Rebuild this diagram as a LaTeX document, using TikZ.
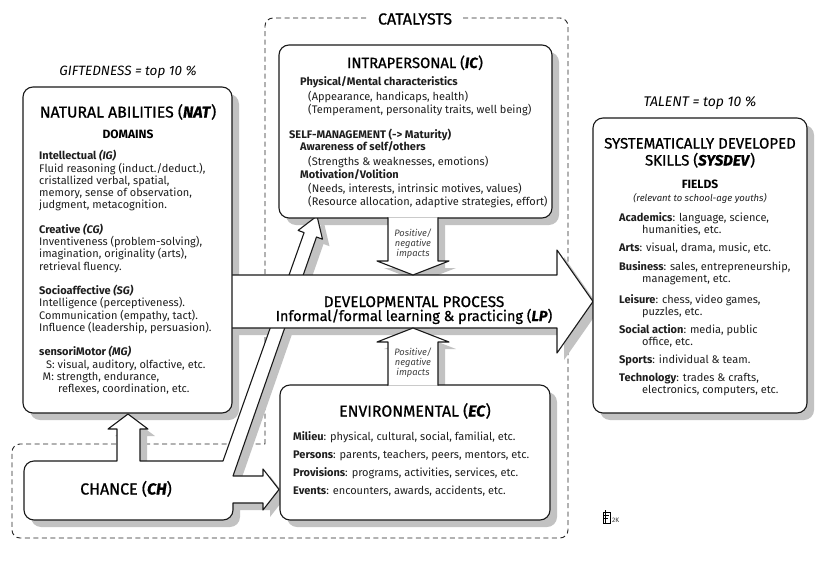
\documentclass[tikz,border=0pt]{standalone}
\usepackage{fontspec}
\setmainfont{Fira Sans}
\newfontfamily\medfont{Fira Sans}[FakeBold=0.9]
\definecolor{shd}{HTML}{C2C2C2}
\definecolor{txt}{HTML}{1E1E1E}
\tikzset{
  shadowfill/.style={fill=shd, draw=none, shift={(7,7)}},
  boxline/.style={draw=black!90, line width=1.1pt, fill=white, line join=round},
  rbox/.style={boxline, rounded corners=10pt},
  tl/.style={anchor=base west, inner sep=0pt, font=\fontsize{11}{12}\selectfont, text=txt},
  tc/.style={anchor=base, inner sep=0pt, text=black},
  ttl/.style={tc, font=\medfont\fontsize{15.8}{17}\selectfont},
  imp/.style={tc, font=\fontsize{9.3}{10}\selectfont\itshape, text=black!75},
  catline/.style={draw=black!85, line width=0.9pt, dash pattern=on 5pt off 3.5pt}
}
\begin{document}
\begin{tikzpicture}[x=1pt,y=-1pt]
\useasboundingbox (0,0) rectangle (825,573);
\fill[white] (0,0) rectangle (825,573);

% catalysts boundary
\draw[catline, rounded corners=8pt] (265,444) -- (265,18) -- (568,18) -- (568,538) -- (12,538) -- (12,444) -- (265,444);

% ---- shadows ----
\fill[shadowfill, rounded corners=10pt] (23,87) rectangle (232,413);
\fill[shadowfill, rounded corners=10pt] (279,45) rectangle (552,218);
\fill[shadowfill, rounded corners=10pt] (280,385) rectangle (550,520);
\fill[shadowfill, rounded corners=10pt] (593,118) rectangle (807,413);
\fill[shadowfill] (232,275) -- (557,275) -- (557,250) -- (593,301.5) -- (557,353) -- (557,328) -- (232,328) -- cycle;
\fill[shadowfill] (388,218) -- (388,261) -- (377,261) -- (413,275) -- (449,261) -- (438,261) -- (438,218) -- cycle;
\fill[shadowfill] (388,385) -- (388,342) -- (377,342) -- (413,328) -- (449,342) -- (438,342) -- (438,385) -- cycle;
\fill[shadowfill] (34,461) -- (117,461) -- (117,429) -- (108,429) -- (128,414) -- (148,429) -- (140,429) -- (140,461) -- (223,461)
  -- (304.1,232.6) -- (298.1,230.4) -- (317,216) -- (322.5,239.2) -- (316.5,237.0) -- (233,476)
  -- (263,476) -- (263,469) -- (279,489.5) -- (263,510) -- (263,503) -- (233,503) -- (233,510)
  .. controls (233,515.5) and (228.5,520) .. (223,520) -- (34,520)
  .. controls (28.5,520) and (24,515.5) .. (24,510) -- (24,471)
  .. controls (24,465.5) and (28.5,461) .. (34,461) -- cycle;

% ---- chance composite ----
\draw[boxline] (34,461) -- (117,461) -- (117,429) -- (108,429) -- (128,414) -- (148,429) -- (140,429) -- (140,461) -- (223,461)
  -- (304.1,232.6) -- (298.1,230.4) -- (317,216) -- (322.5,239.2) -- (316.5,237.0) -- (233,476)
  -- (263,476) -- (263,469) -- (279,489.5) -- (263,510) -- (263,503) -- (233,503) -- (233,510)
  .. controls (233,515.5) and (228.5,520) .. (223,520) -- (34,520)
  .. controls (28.5,520) and (24,515.5) .. (24,510) -- (24,471)
  .. controls (24,465.5) and (28.5,461) .. (34,461) -- cycle;

% ---- developmental process arrow ----
\draw[boxline] (232,275) -- (557,275) -- (557,250) -- (593,301.5) -- (557,353) -- (557,328) -- (232,328);

% ---- boxes ----
\draw[rbox] (23,87) rectangle (232,413);
\draw[rbox] (279,45) rectangle (552,218);
\draw[rbox] (280,385) rectangle (550,520);
\draw[rbox] (593,118) rectangle (807,413);

% ---- impact arrows ----
\draw[boxline] (388,217.4) -- (388,261) -- (377,261) -- (413,275) -- (449,261) -- (438,261) -- (438,217.4);
\draw[boxline] (388,385.6) -- (388,342) -- (377,342) -- (413,328) -- (449,342) -- (438,342) -- (438,385.6);

% ---- texts: NAT ----
\node[tc, font=\fontsize{13.5}{15}\selectfont\itshape] (gift) at (128,75) {GIFTEDNESS = top 10 \%};
\node[ttl] (natT) at (128,117.5) {NATURAL ABILITIES (\textbf{\textit{NAT}})};
\node[tc, font=\fontsize{12}{13}\selectfont\bfseries] (dom) at (128,138) {DOMAINS};
\node[tl] (n0) at (39,159.8) {\textbf{Intellectual \textit{(IG)}}};
\node[tl] (n1) at (39,172) {Fluid reasoning (induct./deduct.),};
\node[tl] (n2) at (39,184.3) {cristallized verbal, spatial,};
\node[tl] (n3) at (39,196.5) {memory, sense of observation,};
\node[tl] (n4) at (39,208.8) {judgment, metacognition.};
\node[tl] (n6) at (39,233.3) {\textbf{Creative \textit{(CG)}}};
\node[tl] (n7) at (39,245.5) {Inventiveness (problem-solving),};
\node[tl] (n8) at (39,257.8) {imagination, originality (arts),};
\node[tl] (n9) at (39,270) {retrieval fluency.};
\node[tl] (n11) at (39,294.5) {\textbf{Socioaffective \textit{(SG)}}};
\node[tl] (n12) at (39,306.8) {Intelligence (perceptiveness).};
\node[tl] (n13) at (39,319) {Communication (empathy, tact).};
\node[tl] (n14) at (39,331.3) {Influence (leadership, persuasion).};
\node[tl] (n16) at (39,355.8) {\textbf{sensoriMotor \textit{(MG)}}};
\node[tl] (n17) at (46,368) {S: visual, auditory, olfactive, etc.};
\node[tl] (n18) at (42.5,380.3) {M: strength, endurance,};
\node[tl] (n19) at (58,392.5) {reflexes, coordination, etc.};

% ---- texts: IC ----
\node[tc, font=\medfont\fontsize{16}{17}\selectfont, fill=white, inner xsep=11pt, inner ysep=3pt] (cat) at (415,24.5) {CATALYSTS};
\node[tc, font=\medfont\fontsize{14.8}{16}\selectfont] (icT) at (415,68) {INTRAPERSONAL (\textbf{\textit{IC}})};
\node[tl] (i1) at (300,85.8) {\textbf{Physical/Mental characteristics}};
\node[tl] (i2) at (308,100.8) {(Appearance, handicaps, health)};
\node[tl] (i3) at (308,113.8) {(Temperament, personality traits, well being)};
\node[tl] (i4) at (289,138.8) {\textbf{SELF-MANAGEMENT (-> Maturity)}};
\node[tl] (i5) at (300,150.8) {\textbf{Awareness of self/others}};
\node[tl] (i6) at (308,165.8) {(Strengths \& weaknesses, emotions)};
\node[tl] (i7) at (300,178.8) {\textbf{Motivation/Volition}};
\node[tl] (i8) at (308,192.8) {(Needs, interests, intrinsic motives, values)};
\node[tl] (i9) at (308,205.8) {(Resource allocation, adaptive strategies, effort)};

% impacts labels
\node[imp] (pu1) at (413,236) {Positive/};
\node[imp] (pu2) at (413,246) {negative};
\node[imp] (pu3) at (413,256) {impacts};
\node[imp] (pd1) at (413,355) {Positive/};
\node[imp] (pd2) at (413,365) {negative};
\node[imp] (pd3) at (413,375) {impacts};

% ---- LP ----
\node[tc, font=\medfont\fontsize{15.3}{17}\selectfont] (lpT) at (414,307) {DEVELOPMENTAL PROCESS};
\node[tc, font=\medfont\fontsize{14.5}{16}\selectfont] (lpS) at (414,321) {Informal/formal learning \& practicing (\textbf{\textit{LP}})};

% ---- EC ----
\node[ttl] (ecT) at (415,416.5) {ENVIRONMENTAL (\textbf{\textit{EC}})};
\node[tl] (e1) at (293,440.8) {\textbf{Milieu}: physical, cultural, social, familial, etc.};
\node[tl] (e2) at (293,458.8) {\textbf{Persons}: parents, teachers, peers, mentors, etc.};
\node[tl] (e3) at (293,476.8) {\textbf{Provisions}: programs, activities, services, etc.};
\node[tl] (e4) at (293,494.8) {\textbf{Events}: encounters, awards, accidents, etc.};

% ---- chance ----
\node[tc, font=\medfont\fontsize{16}{17}\selectfont] (chT) at (126,494.5) {CHANCE (\textbf{\textit{CH}})};

% ---- SYSDEV ----
\node[tc, font=\fontsize{14}{15}\selectfont\itshape] (tal) at (700,106) {TALENT = top 10 \%};
\node[tc, font=\medfont\fontsize{15}{16}\selectfont] (s0a) at (700,148.5) {SYSTEMATICALLY DEVELOPED};
\node[tc, font=\medfont\fontsize{15}{16}\selectfont] (s0b) at (700,165.5) {SKILLS (\textbf{\textit{SYSDEV}})};
\node[tc, font=\fontsize{12}{13}\selectfont\bfseries] (fld) at (700,188.5) {FIELDS};
\node[tc, font=\fontsize{9.5}{11}\selectfont\itshape, text=txt] (rel) at (700,201.5) {(relevant to school-age youths)};
\node[tl] (s1) at (619,221.8) {\textbf{Academics}: language, science,};
\node[tl] (s1b) at (642,233.8) {humanities, etc.};
\node[tl] (s2) at (619,251.8) {\textbf{Arts}: visual, drama, music, etc.};
\node[tl] (s3) at (619,270.3) {\textbf{Business}: sales, entrepreneurship,};
\node[tl] (s3b) at (642,282.3) {management, etc.};
\node[tl] (s4) at (619,303.3) {\textbf{Leisure}: chess, video games,};
\node[tl] (s4b) at (642,315.3) {puzzles, etc.};
\node[tl] (s5) at (619,333.8) {\textbf{Social action}: media, public};
\node[tl] (s5b) at (642,345.8) {office, etc.};
\node[tl] (s6) at (619,363.8) {\textbf{Sports}: individual \& team.};
\node[tl] (s7) at (619,381.8) {\textbf{Technology}: trades \& crafts,};
\node[tl] (s7b) at (642,393.8) {electronics, computers, etc.};

% ---- 2K mark ----
\draw[line width=0.7pt] (603,512) rectangle (610,523);
\draw[line width=0.7pt] (605,510) -- (605,523) (603,515) -- (609,515) (604,518) -- (608,518);
\node[anchor=base west, inner sep=0pt, font=\fontsize{6.5}{8}\selectfont, text=black!80] (twok) at (612,522) {2K};
\end{tikzpicture}
\end{document}
